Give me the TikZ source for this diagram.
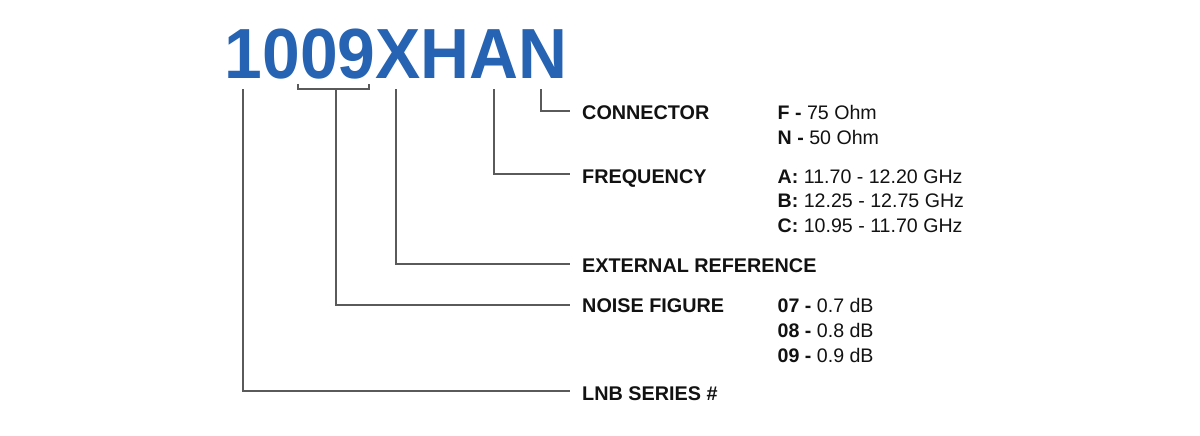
\documentclass[tikz,border=0pt]{standalone}
\usepackage{fontspec}
\setmainfont{Liberation Sans}
\usetikzlibrary{calc}
\definecolor{titleblue}{HTML}{2663B2}
\definecolor{linegray}{HTML}{5A5A5A}
\definecolor{txt}{HTML}{121212}
\begin{document}
\begin{tikzpicture}[x=1pt,y=-1pt,
  lbl/.style={anchor=base west,inner sep=0pt,font=\fontsize{19.8}{23}\selectfont\bfseries,text=txt},
  val/.style={anchor=base west,inner sep=0pt,font=\fontsize{19.6}{23}\selectfont,text=txt},
  conn/.style={draw=linegray,line width=1.8pt}]
\useasboundingbox[fill=white] (0,0) rectangle (1200,436);
\node[anchor=base west,inner sep=0pt,font=\fontsize{71}{71}\selectfont\bfseries,text=titleblue] (title) at (224.5,78) {\scalebox{0.955}[1]{1009XHAN}};
% labels
\node[lbl] (lconn) at (582,120) {CONNECTOR};
\node[lbl] (lfreq) at (582,183) {FREQUENCY};
\node[lbl] (lext) at (582,272.5) {EXTERNAL REFERENCE};
\node[lbl] (lnf) at (582,312) {NOISE FIGURE};
\node[lbl] (llnb) at (582,400) {LNB SERIES \#};
% values
\node[val] (vF) at (777.5,119.5) {\textbf{F -} 75 Ohm};
\node[val] (vN) at (777.5,144.5) {\textbf{N -} 50 Ohm};
\node[val] (vA) at (777.5,183) {\textbf{A:} 11.70 - 12.20 GHz};
\node[val] (vB) at (777.5,207.5) {\textbf{B:} 12.25 - 12.75 GHz};
\node[val] (vC) at (777.5,232) {\textbf{C:} 10.95 - 11.70 GHz};
\node[val] (v07) at (777.5,312) {\textbf{07 -} 0.7 dB};
\node[val] (v08) at (777.5,337) {\textbf{08 -} 0.8 dB};
\node[val] (v09) at (777.5,362) {\textbf{09 -} 0.9 dB};
% connector start points
\coordinate (pSer) at (242.7,89.3);
\coordinate (bL) at (298.3,84);
\coordinate (bR) at (369.3,84);
\coordinate (pNF) at (336,89.3);
\coordinate (pExt) at (395.7,89.3);
\coordinate (pFreq) at (494.3,89.3);
\coordinate (pConn) at (540.7,89.3);
% bracket
\draw[conn] (bL) -- (bL |- pNF) -- (bR |- pNF) -- (bR);
% connectors
\draw[conn] (pConn) |- ($(lconn.base west)+(-12,-9)$);
\draw[conn] (pFreq) |- ($(lfreq.base west)+(-12,-9)$);
\draw[conn] (pExt) |- ($(lext.base west)+(-12,-8.2)$);
\draw[conn] (pNF) |- ($(lnf.base west)+(-12,-7.2)$);
\draw[conn] (pSer) |- ($(llnb.base west)+(-12,-8.7)$);
\end{tikzpicture}
\end{document}
